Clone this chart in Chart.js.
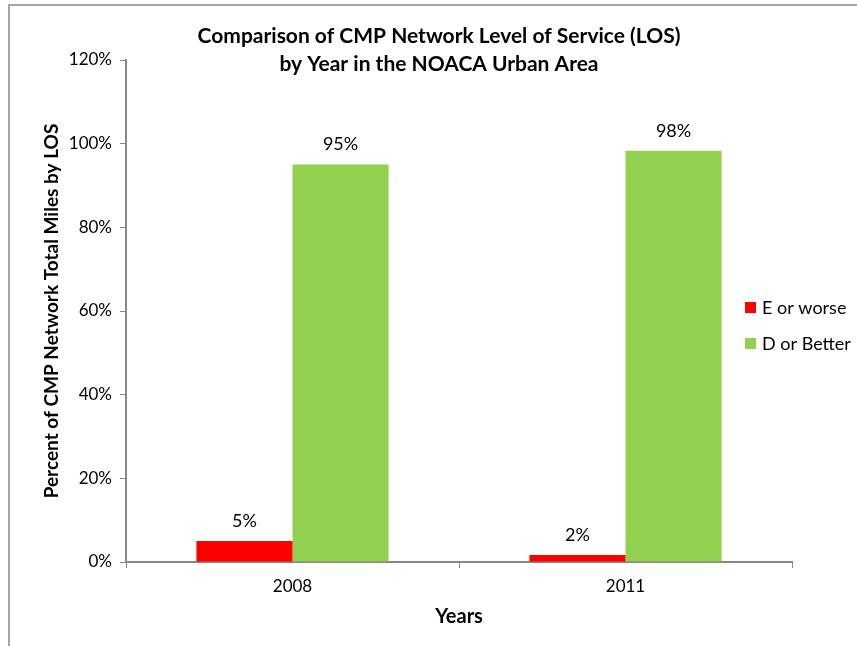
<!DOCTYPE html>
<html>
<head>
<meta charset="utf-8">
<script src="https://cdn.jsdelivr.net/npm/chart.js@4"></script>
<style>
  html, body { margin: 0; padding: 0; background: #fff; }
  #wrap { position: relative; width: 857px; height: 646px; }
  #frame { position: absolute; left: 8px; top: 4px; right: 0; bottom: 0;
           border-left: 2px solid #a6a6a6; border-top: 2px solid #a6a6a6; }
</style>
</head>
<body>
<div id="wrap">
  <div id="frame"></div>
  <canvas id="losChart" width="857" height="646"></canvas>
</div>
<script>
var years = ["2008", "2011"];
var seriesNames = ["E or worse", "D or Better"];
var eOrWorse = [5.0, 1.7];
var dOrBetter = [95.0, 98.3];
var seriesColors = ["#FF0000", "#92D050"];
var titleLines = ["Comparison of CMP Network Level of Service (LOS)", "by Year in the NOACA Urban Area"];

var fontFam = "Lato, 'Open Sans', sans-serif";

// title drawn by hand so it can sit off-centre like the original
var titleText = {
  id: "titleText",
  afterDraw: function (chart) {
    var ctx = chart.ctx;
    ctx.save();
    ctx.fillStyle = "#000";
    ctx.font = "bold 21px " + fontFam;
    ctx.textAlign = "center";
    ctx.textBaseline = "middle";
    ctx.fillText(titleLines[0], 439, 36);
    ctx.fillText(titleLines[1], 439, 64);
    ctx.restore();
  }
};

// value labels above each bar
var barLabels = {
  id: "barLabels",
  afterDatasetsDraw: function (chart) {
    var ctx = chart.ctx;
    ctx.save();
    ctx.fillStyle = "#000";
    ctx.font = "18px " + fontFam;
    ctx.textAlign = "center";
    ctx.textBaseline = "middle";
    chart.data.datasets.forEach(function (ds, i) {
      chart.getDatasetMeta(i).data.forEach(function (bar, j) {
        ctx.fillText(Math.round(ds.data[j]) + "%", bar.x, bar.y - 20);
      });
    });
    ctx.restore();
  }
};

// legend placed over the right edge of the plot, as in the original
var sideLegend = {
  id: "sideLegend",
  afterDraw: function (chart) {
    var ctx = chart.ctx;
    ctx.save();
    ctx.font = "18px " + fontFam;
    ctx.textBaseline = "middle";
    chart.data.datasets.forEach(function (ds, i) {
      var y = 308 + i * 36;
      ctx.fillStyle = ds.backgroundColor;
      ctx.fillRect(745, y - 6, 11, 11);
      ctx.fillStyle = "#000";
      ctx.fillText(ds.label, 762, y);
    });
    ctx.restore();
  }
};

new Chart("losChart", {
  type: "bar",
  data: {
    labels: years,
    datasets: [
      { label: seriesNames[0], data: eOrWorse, backgroundColor: seriesColors[0] },
      { label: seriesNames[1], data: dOrBetter, backgroundColor: seriesColors[1] }
    ]
  },
  options: {
    responsive: false,
    animation: false,
    categoryPercentage: 0.577,
    barPercentage: 1.0,
    layout: { padding: { left: 36, right: 65, top: 60, bottom: 13 } },
    plugins: {
      legend: { display: false },
      title: { display: false },
      tooltip: { enabled: false }
    },
    scales: {
      x: {
        offset: true,
        grid: { display: true, drawOnChartArea: false, offset: true, tickLength: 6, color: "#868686", lineWidth: 1 },
        border: { color: "#868686", width: 2 },
        ticks: { color: "#000", font: { family: fontFam, size: 17 }, padding: 8 },
        title: { display: true, text: "Years", color: "#000", font: { family: fontFam, size: 20, weight: "bold" } },
        afterFit: function (s) { s.height = 71; }
      },
      y: {
        min: 0,
        max: 120,
        ticks: {
          stepSize: 20,
          color: "#000",
          font: { family: fontFam, size: 17 },
          padding: 8,
          callback: function (v) { return v + "%"; }
        },
        grid: { display: true, drawOnChartArea: false, tickLength: 6, color: "#868686" },
        border: { color: "#868686", width: 2 },
        title: { display: true, text: "Percent of CMP Network Total Miles by LOS", color: "#000", font: { family: fontFam, size: 19, weight: "bold" } },
        afterFit: function (s) { s.width = 90; }
      }
    }
  },
  plugins: [titleText, barLabels, sideLegend]
});
</script>
</body>
</html>
